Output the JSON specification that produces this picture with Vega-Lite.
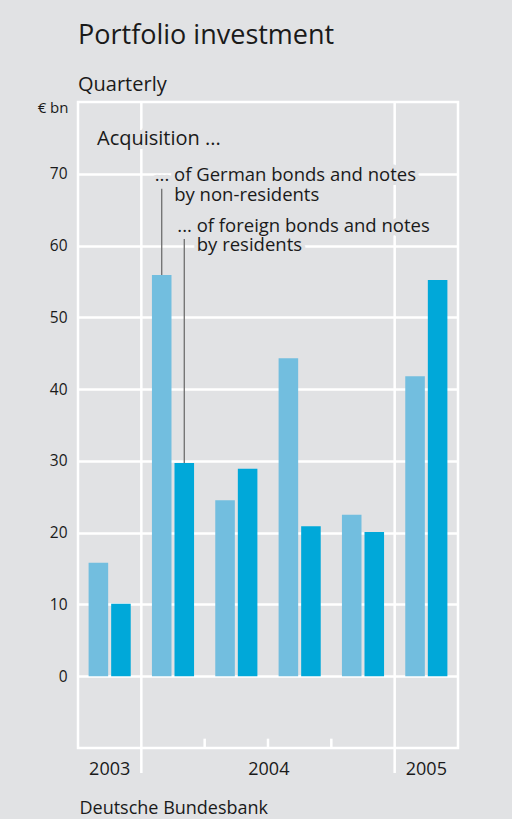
{
  "$schema": "https://vega.github.io/schema/vega-lite/v6.json",
  "width": 380,
  "height": 646,
  "autosize": {"type": "none"},
  "padding": {"left": 78, "top": 102, "right": 54, "bottom": 71},
  "background": "#e1e2e4",
  "config": {
    "font": "Open Sans",
    "view": {"stroke": "white", "strokeWidth": 2.5}
  },
  "title": {
    "text": "Portfolio investment",
    "subtitle": "Quarterly",
    "anchor": "start",
    "frame": "group",
    "fontSize": 27,
    "fontWeight": "normal",
    "color": "#1a1a1a",
    "subtitleFontSize": 20,
    "subtitleColor": "#1a1a1a",
    "subtitlePadding": 25,
    "offset": 4
  },
  "datasets": {
    "bars": [
      {"quarter": "2003 Q4", "series": "German", "value": 15.8},
      {"quarter": "2003 Q4", "series": "foreign", "value": 10.1},
      {"quarter": "2004 Q1", "series": "German", "value": 55.9},
      {"quarter": "2004 Q1", "series": "foreign", "value": 29.7},
      {"quarter": "2004 Q2", "series": "German", "value": 24.5},
      {"quarter": "2004 Q2", "series": "foreign", "value": 28.9},
      {"quarter": "2004 Q3", "series": "German", "value": 44.3},
      {"quarter": "2004 Q3", "series": "foreign", "value": 20.9},
      {"quarter": "2004 Q4", "series": "German", "value": 22.5},
      {"quarter": "2004 Q4", "series": "foreign", "value": 20.1},
      {"quarter": "2005 Q1", "series": "German", "value": 41.8},
      {"quarter": "2005 Q1", "series": "foreign", "value": 55.2}
    ],
    "annot": [
      {"quarter": "2004 Q1", "series": "German", "value": 55.9, "top": 67.9, "line1": "... of German bonds and notes", "line2": "by non-residents"},
      {"quarter": "2004 Q1", "series": "foreign", "value": 29.7, "top": 60.9, "line1": "... of foreign bonds and notes", "line2": "by residents"}
    ],
    "yearLines": [{"quarter": "2004 Q1"}, {"quarter": "2005 Q1"}],
    "quarterTicks": [{"quarter": "2004 Q2"}, {"quarter": "2004 Q3"}, {"quarter": "2004 Q4"}]
  },
  "encoding": {
    "x": {
      "field": "quarter",
      "type": "ordinal",
      "scale": {"paddingInner": 0, "paddingOuter": 0},
      "axis": {
        "domain": false,
        "ticks": false,
        "grid": false,
        "labelAngle": 0,
        "labelFontSize": 18,
        "labelColor": "#1a1a1a",
        "labelPadding": 12,
        "labelBaseline": "top",
        "labelExpr": "datum.value == '2003 Q4' ? '2003' : datum.value == '2004 Q2' ? '2004' : datum.value == '2005 Q1' ? '2005' : ''",
        "labelOffset": {"condition": {"test": "datum.value == '2004 Q2'", "value": 32.5}, "value": 0},
        "title": "Deutsche Bundesbank",
        "titleFontSize": 18,
        "titleFontWeight": "normal",
        "titleColor": "#1a1a1a",
        "titleAnchor": "start",
        "titleAlign": "left",
        "titleBaseline": "alphabetic",
        "titleX": 1,
        "titleY": 65
      }
    }
  },
  "layer": [
    {
      "data": {"name": "bars"},
      "mark": {"type": "bar"},
      "encoding": {
        "xOffset": {
          "field": "series",
          "sort": ["German", "foreign"],
          "scale": {"paddingInner": 0.133, "paddingOuter": 0.47}
        },
        "y": {
          "field": "value",
          "type": "quantitative",
          "scale": {"domain": [-10, 80], "nice": false, "zero": false},
          "axis": {
            "values": [0, 10, 20, 30, 40, 50, 60, 70],
            "domain": false,
            "ticks": false,
            "grid": true,
            "gridColor": "white",
            "gridWidth": 2.5,
            "labelFontSize": 15.5,
            "labelColor": "#1a1a1a",
            "labelPadding": 11,
            "title": "€ bn",
            "titleAngle": 0,
            "titleAlign": "right",
            "titleBaseline": "middle",
            "titleX": -10,
            "titleY": 5,
            "titleFontSize": 15,
            "titleFontWeight": "normal",
            "titleColor": "#1a1a1a"
          }
        },
        "color": {
          "field": "series",
          "type": "nominal",
          "scale": {"domain": ["German", "foreign"], "range": ["#72bedf", "#00a8d9"]},
          "legend": null
        }
      }
    },
    {
      "data": {"name": "yearLines"},
      "mark": {"type": "rule", "color": "white", "strokeWidth": 2.5},
      "encoding": {
        "x": {"field": "quarter", "type": "ordinal", "bandPosition": 0},
        "y": {"datum": 80},
        "y2": {"datum": -13.5}
      }
    },
    {
      "data": {"name": "quarterTicks"},
      "mark": {"type": "rule", "color": "white", "strokeWidth": 2.5},
      "encoding": {
        "x": {"field": "quarter", "type": "ordinal", "bandPosition": 0},
        "y": {"datum": -10},
        "y2": {"datum": -8.7}
      }
    },
    {
      "data": {"name": "annot"},
      "mark": {"type": "text", "align": "left", "baseline": "middle", "fontSize": 18.5, "dx": -7, "dy": -13.5, "fill": "#e1e2e4", "stroke": "#e1e2e4", "strokeWidth": 8, "strokeJoin": "round"},
      "encoding": {
        "xOffset": {"field": "series", "sort": ["German", "foreign"]},
        "y": {"field": "top", "type": "quantitative"},
        "text": {"field": "line1"}
      }
    },
    {
      "data": {"name": "annot"},
      "mark": {"type": "text", "align": "left", "baseline": "middle", "fontSize": 18.5, "dx": 12.5, "dy": 6, "fill": "#e1e2e4", "stroke": "#e1e2e4", "strokeWidth": 8, "strokeJoin": "round"},
      "encoding": {
        "xOffset": {"field": "series", "sort": ["German", "foreign"]},
        "y": {"field": "top", "type": "quantitative"},
        "text": {"field": "line2"}
      }
    },
    {
      "data": {"values": [{}]},
      "mark": {"type": "text", "align": "left", "baseline": "middle", "fontSize": 20, "dx": 19, "fill": "#e1e2e4", "stroke": "#e1e2e4", "strokeWidth": 8, "strokeJoin": "round"},
      "encoding": {
        "x": {"datum": "2003 Q4", "type": "ordinal", "bandPosition": 0},
        "y": {"datum": 74.8, "type": "quantitative"},
        "text": {"value": "Acquisition ..."}
      }
    },
    {
      "data": {"name": "annot"},
      "mark": {"type": "rule", "color": "#6e6e6e", "strokeWidth": 1.3},
      "encoding": {
        "xOffset": {"field": "series", "sort": ["German", "foreign"]},
        "y": {"field": "value", "type": "quantitative"},
        "y2": {"field": "top"}
      }
    },
    {
      "data": {"name": "annot"},
      "mark": {"type": "text", "align": "left", "baseline": "middle", "fontSize": 18.5, "dx": -7, "dy": -13.5, "color": "#1a1a1a"},
      "encoding": {
        "xOffset": {"field": "series", "sort": ["German", "foreign"]},
        "y": {"field": "top", "type": "quantitative"},
        "text": {"field": "line1"}
      }
    },
    {
      "data": {"name": "annot"},
      "mark": {"type": "text", "align": "left", "baseline": "middle", "fontSize": 18.5, "dx": 12.5, "dy": 6, "color": "#1a1a1a"},
      "encoding": {
        "xOffset": {"field": "series", "sort": ["German", "foreign"]},
        "y": {"field": "top", "type": "quantitative"},
        "text": {"field": "line2"}
      }
    },
    {
      "data": {"values": [{}]},
      "mark": {"type": "text", "align": "left", "baseline": "middle", "fontSize": 20, "dx": 19, "color": "#1a1a1a"},
      "encoding": {
        "x": {"datum": "2003 Q4", "type": "ordinal", "bandPosition": 0},
        "y": {"datum": 74.8, "type": "quantitative"},
        "text": {"value": "Acquisition ..."}
      }
    }
  ]
}
